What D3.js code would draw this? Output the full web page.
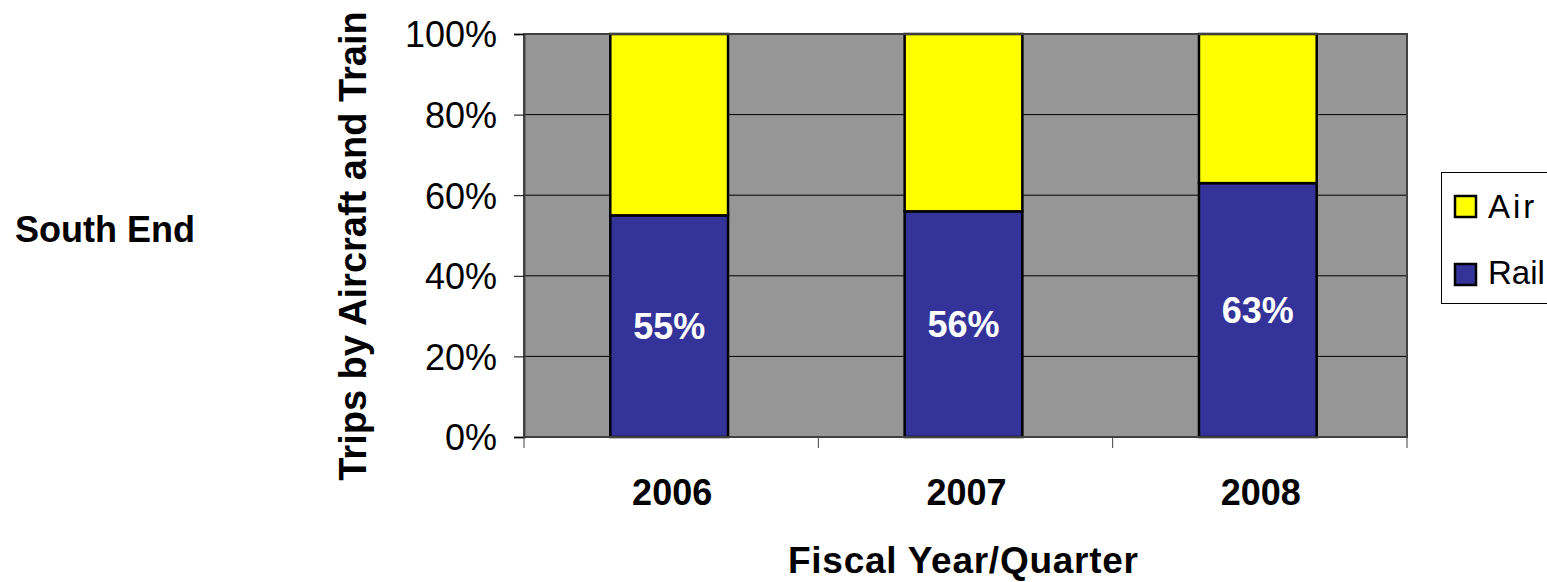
<!DOCTYPE html>
<html>
<head>
<meta charset="utf-8">
<script src="https://cdn.jsdelivr.net/npm/d3@7/dist/d3.min.js"></script>
<style>
  html, body { margin: 0; padding: 0; background: #ffffff; }
  svg { display: block; font-family: "Liberation Sans", Arial, sans-serif; }
</style>
</head>
<body>
<svg id="chart" width="1547" height="582"></svg>
<script>
const years = ["2006", "2007", "2008"];
const rail = [55, 56, 63];
const air = [45, 44, 37];
const yTicks = [0, 20, 40, 60, 80, 100];
const seriesNames = ["Air", "Rail"];
const seriesColors = { Air: "#FFFF00", Rail: "#333399" };

const svg = d3.select("#chart");
const plot = { left: 524, right: 1407, top: 34, bottom: 437 };

const x = d3.scaleBand().domain(years).range([plot.left, plot.right]).padding(0);
const y = d3.scaleLinear().domain([0, 100]).range([plot.bottom, plot.top]);
const barW = x.bandwidth() * 0.4;
const barShift = -2;

// plot background
svg.append("rect")
  .attr("x", plot.left).attr("y", plot.top)
  .attr("width", plot.right - plot.left).attr("height", plot.bottom - plot.top)
  .attr("fill", "#969696");

// gridlines
svg.append("g").selectAll("line").data(yTicks.filter(d => d > 0 && d < 100)).join("line")
  .attr("x1", plot.left).attr("x2", plot.right)
  .attr("y1", d => y(d)).attr("y2", d => y(d))
  .attr("stroke", "#000").attr("stroke-width", 1);

// stacked data
const data = years.map((yr, i) => ({ year: yr, Rail: rail[i], Air: air[i] }));
const stack = d3.stack().keys(["Rail", "Air"])(data);

const barG = svg.append("g");
stack.forEach(layer => {
  barG.selectAll(null).data(layer).join("rect")
    .attr("x", d => x(d.data.year) + (x.bandwidth() - barW) / 2 + barShift)
    .attr("y", d => y(d[1]))
    .attr("width", barW)
    .attr("height", d => y(d[0]) - y(d[1]))
    .attr("fill", seriesColors[layer.key])
    .attr("stroke", "#000")
    .attr("stroke-width", 2.5);
});

// data labels on Rail
svg.append("g").selectAll("text").data(stack[0]).join("text")
  .attr("x", d => x(d.data.year) + x.bandwidth() / 2 + barShift)
  .attr("y", d => (y(d[0]) + y(d[1])) / 2 + 13)
  .attr("text-anchor", "middle")
  .attr("fill", "#fff")
  .attr("font-weight", "bold")
  .attr("font-size", 36)
  .text(d => d.data.Rail + "%");

// plot border
svg.append("rect")
  .attr("x", plot.left).attr("y", plot.top)
  .attr("width", plot.right - plot.left).attr("height", plot.bottom - plot.top)
  .attr("fill", "none").attr("stroke", "#404040").attr("stroke-width", 2);

// y axis
const yAxis = svg.append("g")
  .attr("transform", `translate(${plot.left},0)`)
  .call(d3.axisLeft(y).tickValues(yTicks).tickSize(10).tickPadding(17).tickFormat(d => d + "%"));
yAxis.select(".domain").attr("stroke", "#404040").attr("stroke-width", 2);
yAxis.selectAll(".tick line").attr("stroke", "#000");
yAxis.selectAll(".tick text")
  .attr("font-size", 36).attr("fill", "#000")
  .attr("font-family", "'Liberation Sans', Arial, sans-serif")
  .attr("dy", "0.36em");

// x axis baseline + boundary ticks
svg.append("line")
  .attr("x1", plot.left).attr("x2", plot.right)
  .attr("y1", plot.bottom).attr("y2", plot.bottom)
  .attr("stroke", "#404040").attr("stroke-width", 2);
const bounds = years.map(d => x(d)).concat([plot.right]);
svg.append("g").selectAll("line").data(bounds).join("line")
  .attr("x1", d => d).attr("x2", d => d)
  .attr("y1", plot.bottom).attr("y2", plot.bottom + 11)
  .attr("stroke", "#404040").attr("stroke-width", 1);

// x category labels
svg.append("g").selectAll("text").data(years).join("text")
  .attr("x", d => x(d) + x.bandwidth() / 2 + 1)
  .attr("y", 505)
  .attr("text-anchor", "middle")
  .attr("font-weight", "bold")
  .attr("font-size", 36)
  .text(d => d);

// x title
svg.append("text")
  .attr("x", 963).attr("y", 573)
  .attr("text-anchor", "middle")
  .attr("font-weight", "bold")
  .attr("font-size", 37)
  .attr("textLength", 350)
  .attr("lengthAdjust", "spacing")
  .text("Fiscal Year/Quarter");

// y title
svg.append("text")
  .attr("transform", "translate(366,246) rotate(-90)")
  .attr("text-anchor", "middle")
  .attr("font-weight", "bold")
  .attr("font-size", 38)
  .text("Trips by Aircraft and Train");

// left label
svg.append("text")
  .attr("x", 15).attr("y", 242)
  .attr("font-weight", "bold")
  .attr("font-size", 36)
  .text("South End");

// legend
const lg = svg.append("g");
lg.append("rect")
  .attr("x", 1441.5).attr("y", 172.5).attr("width", 140).attr("height", 131)
  .attr("fill", "#fff").attr("stroke", "#000").attr("stroke-width", 1);
const legendRows = [{ name: "Air", sy: 196, ty: 218 }, { name: "Rail", sy: 264, ty: 284 }];
legendRows.forEach(r => {
  lg.append("rect")
    .attr("x", 1455).attr("y", r.sy).attr("width", 21).attr("height", 21)
    .attr("fill", seriesColors[r.name]).attr("stroke", "#000").attr("stroke-width", 2.5);
  lg.append("text")
    .attr("x", 1488).attr("y", r.ty)
    .attr("font-size", 33)
    .attr("letter-spacing", r.name === "Air" ? 3 : 0)
    .text(r.name);
});
</script>
</body>
</html>
